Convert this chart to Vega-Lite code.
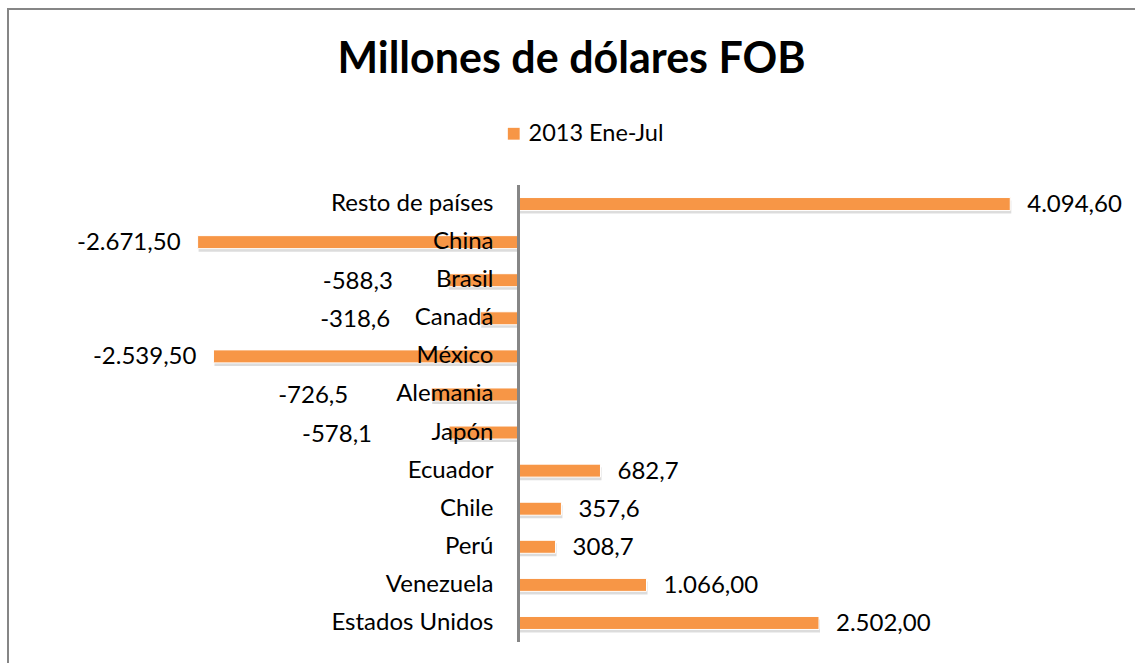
{
  "$schema": "https://vega.github.io/schema/vega-lite/v6.json",
  "width": 1127,
  "height": 654,
  "autosize": {"type": "none"},
  "padding": {"left": 8, "top": 9, "right": 0, "bottom": 0},
  "background": "white",
  "config": {
    "view": {"stroke": null},
    "font": "Lato",
    "text": {"font": "Lato", "fontSize": 24, "color": "#000000", "baseline": "middle"}
  },
  "title": {
    "text": "Millones de dólares FOB",
    "font": "Lato",
    "fontSize": 43,
    "fontWeight": "bold",
    "color": "#000000",
    "anchor": "middle",
    "baseline": "alphabetic",
    "offset": 0,
    "dy": 109
  },
  "data": {
    "values": [
      {"country": "Resto de países", "value": 4094.6, "label": "4.094,60"},
      {"country": "China", "value": -2671.5, "label": "-2.671,50"},
      {"country": "Brasil", "value": -588.3, "label": "-588,3"},
      {"country": "Canadá", "value": -318.6, "label": "-318,6"},
      {"country": "México", "value": -2539.5, "label": "-2.539,50"},
      {"country": "Alemania", "value": -726.5, "label": "-726,5"},
      {"country": "Japón", "value": -578.1, "label": "-578,1"},
      {"country": "Ecuador", "value": 682.7, "label": "682,7"},
      {"country": "Chile", "value": 357.6, "label": "357,6"},
      {"country": "Perú", "value": 308.7, "label": "308,7"},
      {"country": "Venezuela", "value": 1066.0, "label": "1.066,00"},
      {"country": "Estados Unidos", "value": 2502.0, "label": "2.502,00"}
    ]
  },
  "encoding": {
    "y": {
      "field": "country",
      "type": "nominal",
      "sort": null,
      "axis": null,
      "scale": {"range": [176, 633], "paddingInner": 0, "paddingOuter": 0}
    }
  },
  "layer": [
    {
      "mark": {"type": "bar", "height": 13, "color": "#9a9a9a", "opacity": 0.35, "xOffset": 1, "yOffset": 3},
      "encoding": {
        "x": {"field": "value", "type": "quantitative", "axis": null, "scale": {"domain": [-4250, 5133], "nice": false, "zero": false}}
      }
    },
    {
      "mark": {"type": "bar", "height": 13, "stroke": "white", "strokeWidth": 1},
      "encoding": {
        "x": {"field": "value", "type": "quantitative"},
        "color": {
          "datum": "2013 Ene-Jul",
          "type": "nominal",
          "scale": {"range": ["#F79646"]},
          "legend": {
            "title": null,
            "orient": "none",
            "legendX": 494,
            "legendY": 113,
            "symbolType": "square",
            "symbolSize": 140,
            "symbolStrokeWidth": 0,
            "labelFont": "Lato",
            "labelFontSize": 23.5,
            "labelColor": "#000000",
            "labelOffset": 3,
            "padding": 0
          }
        }
      }
    },
    {
      "mark": {"type": "rule", "color": "#868686", "strokeWidth": 2, "yOffset": -196, "y2Offset": 45},
      "encoding": {
        "x": {"datum": -4250, "type": "quantitative"},
        "y": {"datum": "Resto de países"},
        "y2": {"datum": "Estados Unidos"}
      }
    },
    {
      "mark": {"type": "rule", "color": "#868686", "strokeWidth": 2, "yOffset": -195},
      "encoding": {
        "y": {"datum": "Resto de países"}
      }
    },
    {
      "mark": {"type": "rule", "color": "#868686", "strokeWidth": 2, "yOffset": -19, "y2Offset": 19},
      "encoding": {
        "x": {"datum": 0, "type": "quantitative"},
        "y": {"datum": "Resto de países"},
        "y2": {"datum": "Estados Unidos"}
      }
    },
    {
      "mark": {"type": "text", "align": "right", "dx": -25},
      "encoding": {
        "x": {"datum": 0, "type": "quantitative"},
        "text": {"field": "country"}
      }
    },
    {
      "transform": [{"filter": "datum.value > 0"}],
      "mark": {"type": "text", "align": "left", "dx": 17, "dy": 1},
      "encoding": {
        "x": {"field": "value", "type": "quantitative"},
        "text": {"field": "label"}
      }
    },
    {
      "transform": [{"filter": "datum.value < -1000"}],
      "mark": {"type": "text", "align": "right", "dx": -17, "dy": 1},
      "encoding": {
        "x": {"field": "value", "type": "quantitative"},
        "text": {"field": "label"}
      }
    },
    {
      "transform": [{"filter": "datum.country === 'Brasil'"}],
      "mark": {"type": "text", "align": "right", "dx": -55, "dy": 2},
      "encoding": {
        "x": {"field": "value", "type": "quantitative"},
        "text": {"field": "label"}
      }
    },
    {
      "transform": [{"filter": "datum.country === 'Canadá'"}],
      "mark": {"type": "text", "align": "right", "dx": -90, "dy": 2},
      "encoding": {
        "x": {"field": "value", "type": "quantitative"},
        "text": {"field": "label"}
      }
    },
    {
      "transform": [{"filter": "datum.country === 'Alemania'"}],
      "mark": {"type": "text", "align": "right", "dx": -83, "dy": 2},
      "encoding": {
        "x": {"field": "value", "type": "quantitative"},
        "text": {"field": "label"}
      }
    },
    {
      "transform": [{"filter": "datum.country === 'Japón'"}],
      "mark": {"type": "text", "align": "right", "dx": -77, "dy": 2},
      "encoding": {
        "x": {"field": "value", "type": "quantitative"},
        "text": {"field": "label"}
      }
    }
  ]
}
